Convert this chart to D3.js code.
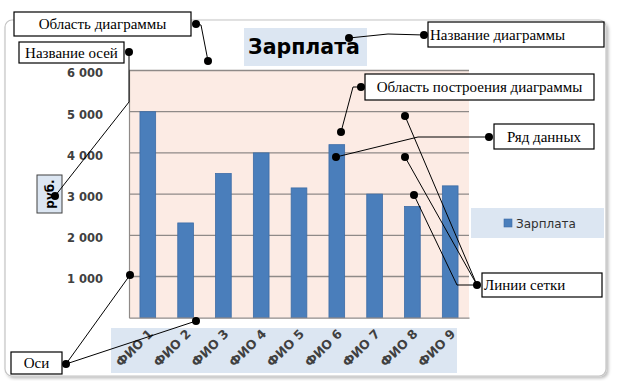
<!DOCTYPE html>
<html><head><meta charset="utf-8">
<script src="https://cdn.jsdelivr.net/npm/d3@7"></script>
<style>body{margin:0;background:#fff}svg{display:block}</style>
</head><body>
<script>
const categories = ["ФИО 1","ФИО 2","ФИО 3","ФИО 4","ФИО 5","ФИО 6","ФИО 7","ФИО 8","ФИО 9"];
const values = [5000,2300,3500,4000,3150,4200,3000,2700,3200];
const yTicks = [1000,2000,3000,4000,5000,6000];
const seriesName = "Зарплата";
const chartTitle = "Зарплата";
const axisTitle = "руб.";
const calloutTexts = ["Область диаграммы","Название осей","Название диаграммы","Область построения диаграммы","Ряд данных","Линии сетки","Оси"];

const W=617,H=381;
const svg=d3.select("body").append("svg").attr("width",W).attr("height",H);
const defs=svg.append("defs");
const f=defs.append("filter").attr("id","sh").attr("x","-5%").attr("y","-5%").attr("width","110%").attr("height","110%");
f.append("feDropShadow").attr("dx",2).attr("dy",2).attr("stdDeviation",1.5).attr("flood-color","#000").attr("flood-opacity",0.25);

// chart area
svg.append("rect").attr("x",5).attr("y",20).attr("width",601).attr("height",356).attr("rx",7)
  .attr("fill","#fff").attr("stroke","#c4c4c4").attr("stroke-width",1.2).attr("filter","url(#sh)");

const m={l:129,r:469,t:70.5,b:317.7};
const x=d3.scaleBand().domain(categories).range([m.l,m.r]).paddingInner(0.585).paddingOuter(0.29);
const y=d3.scaleLinear().domain([0,6000]).range([m.b,m.t]);

// plot area
svg.append("rect").attr("x",m.l).attr("y",m.t).attr("width",m.r-m.l).attr("height",m.b-m.t).attr("fill","#fcebe4");
svg.append("g").selectAll("line").data(yTicks).join("line")
  .attr("x1",m.l).attr("x2",m.r).attr("y1",d=>y(d)).attr("y2",d=>y(d))
  .attr("stroke","#8f8a88").attr("stroke-width",1.3);

// title
svg.append("rect").attr("x",244).attr("y",28).attr("width",123).attr("height",38).attr("fill","#dce6f2");
svg.append("text").attr("x",304).attr("y",54).attr("text-anchor","middle")
  .attr("font-family","DejaVu Sans").attr("font-weight","bold").attr("font-size",20.5).attr("fill","#000").text(chartTitle);

// bars
svg.append("g").selectAll("rect").data(values).join("rect")
  .attr("x",(d,i)=>x(categories[i])).attr("width",x.bandwidth())
  .attr("y",d=>y(d)).attr("height",d=>y(0)-y(d))
  .attr("fill","#4a7ebb").attr("stroke","#3d6ca6").attr("stroke-width",0.8);

// axes
const yAxis=d3.axisLeft(y).tickValues(yTicks).tickSize(0).tickPadding(26)
  .tickFormat(d=>d3.format(",")(d).replace(/,/g," "));
const gy=svg.append("g").attr("transform",`translate(${m.l},0)`).call(yAxis);
gy.select(".domain").attr("stroke","#8f8a88").attr("stroke-width",1.2);
gy.selectAll("text").attr("font-family","DejaVu Sans").attr("font-weight","bold").attr("font-size",11.5).attr("fill","#404040").attr("dy","0.55em");

svg.append("rect").attr("x",111).attr("y",328).attr("width",346).attr("height",45).attr("fill","#dce6f2");
const xAxis=d3.axisBottom(x).tickSize(0).tickPadding(0);
const gx=svg.append("g").attr("transform",`translate(0,${m.b})`).call(xAxis);
gx.select(".domain").attr("stroke","#8f8a88").attr("stroke-width",1.2);
gx.selectAll(".tick text").attr("font-family","DejaVu Sans").attr("font-weight","bold").attr("font-size",12.5).attr("fill","#404040")
  .attr("text-anchor","end").attr("dy",0).attr("transform","translate(6,17) rotate(-45)");

// axis title
svg.append("rect").attr("x",37).attr("y",175).attr("width",25).attr("height",38).attr("fill","#dce6f2").attr("stroke","#404040").attr("stroke-width",1);
svg.append("text").attr("transform","translate(54,194) rotate(-90)").attr("text-anchor","middle")
  .attr("font-family","DejaVu Sans").attr("font-weight","bold").attr("font-size",12).attr("fill","#000").text(axisTitle);

// legend
svg.append("rect").attr("x",471).attr("y",208).attr("width",133).attr("height",30).attr("fill","#dce6f2");
svg.append("rect").attr("x",504).attr("y",219).attr("width",8).attr("height",8).attr("fill","#4a7ebb").attr("stroke","#3d6ca6").attr("stroke-width",0.6);
svg.append("text").attr("x",516).attr("y",227.5).attr("font-family","DejaVu Sans").attr("font-size",12).attr("fill","#303030").text(seriesName);

// callouts
const lines=[
  [[196,24],[201,25],[208,61]],
  [[129,52],[129,102],[55,196]],
  [[424,35],[388,34],[349,38]],
  [[361,87],[353,87],[341,132]],
  [[489,137],[418,137],[336,157]],
  [[477,285],[405,116]],
  [[477,285],[405,157]],
  [[477,285],[457,285],[414,195]],
  [[66,364],[130,275]],
  [[66,364],[196,321]]
];
const dots=[[196,24],[208,61],[129,52],[55,196],[424,35],[349,38],[361,87],[341,132],[489,137],[336,157],[477,285],[405,116],[405,157],[414,195],[66,364],[130,275],[196,321]];
const boxes=[
  {x:14,y:12,w:177,h:24,a:"middle"},
  {x:19,y:42,w:105,h:21,a:"middle"},
  {x:428,y:22,w:176,h:25,a:"start"},
  {x:365,y:74,w:229,h:26,a:"middle"},
  {x:494,y:124,w:100,h:25,a:"middle"},
  {x:482,y:273,w:120,h:24,a:"start"},
  {x:11,y:352,w:51,h:22,a:"middle"}
];
const cg=svg.append("g");
cg.selectAll("path").data(lines).join("path").attr("d",d3.line()).attr("fill","none").attr("stroke","#000").attr("stroke-width",1);
const bg=cg.selectAll("g.b").data(boxes).join("g").attr("class","b");
bg.append("rect").attr("x",d=>d.x).attr("y",d=>d.y).attr("width",d=>d.w).attr("height",d=>d.h).attr("fill","#fff").attr("stroke","#000").attr("stroke-width",1.2);
bg.append("text").attr("x",d=>d.a==="middle"?d.x+d.w/2:d.x+2).attr("y",d=>d.y+d.h/2+5).attr("text-anchor",d=>d.a)
  .attr("font-family","Liberation Serif").attr("font-size",15).attr("fill","#000").text((d,i)=>calloutTexts[i]);
cg.selectAll("circle").data(dots).join("circle").attr("cx",d=>d[0]).attr("cy",d=>d[1]).attr("r",4).attr("fill","#000");
</script>
</body></html>
